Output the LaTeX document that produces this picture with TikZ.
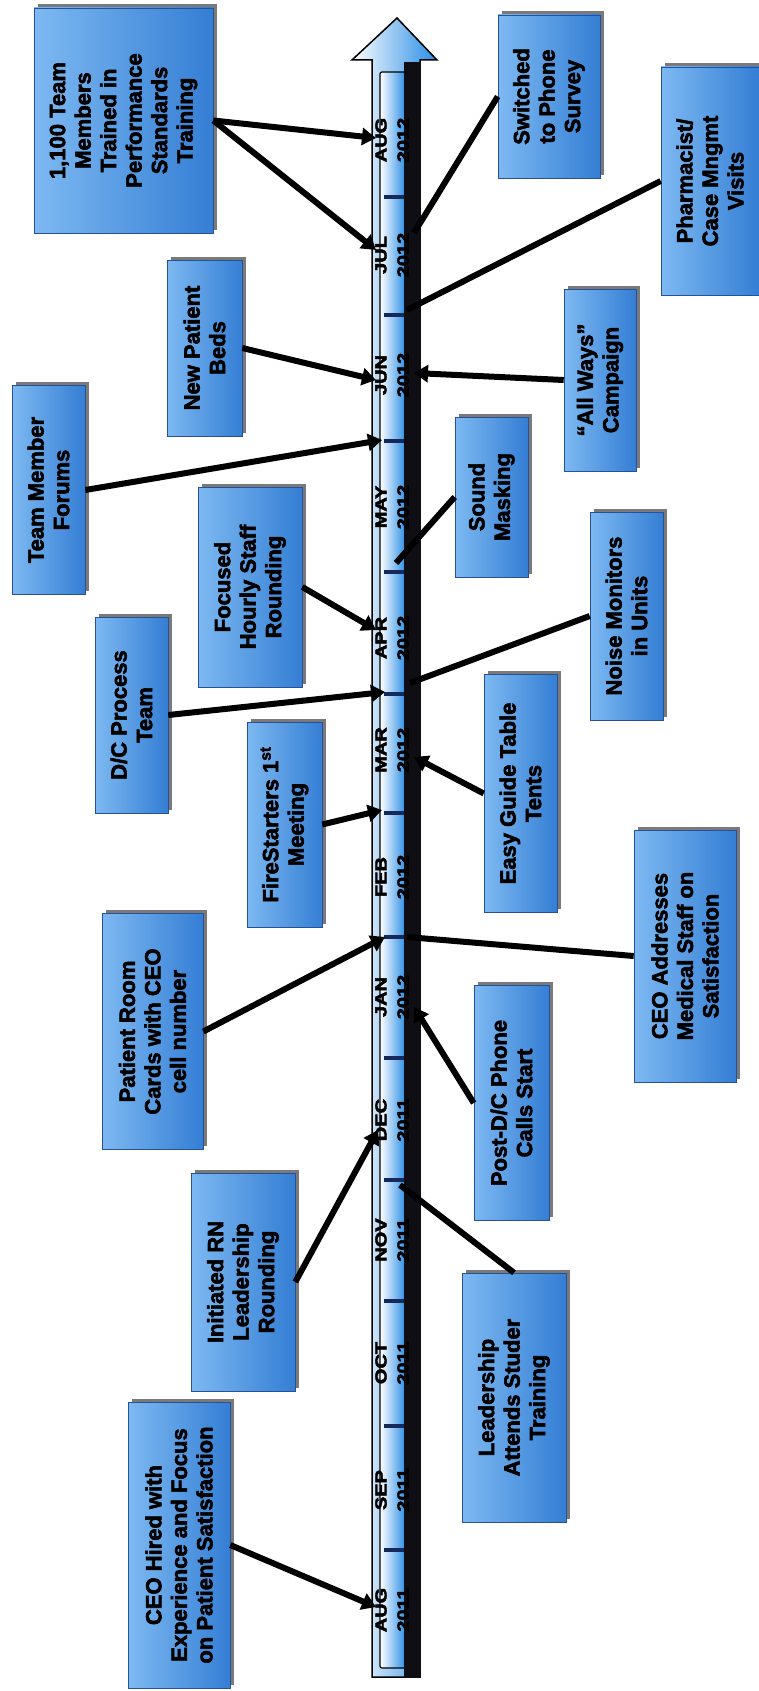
\documentclass[tikz,border=0pt]{standalone}
\usepackage{fontspec}
\setmainfont{Liberation Sans}
\newfontfamily\evfont{Liberation Sans}[FakeBold=2.5]
\usetikzlibrary{arrows.meta,shadows}
\definecolor{boxL}{RGB}{125,185,242}
\definecolor{boxR}{RGB}{52,126,212}
\definecolor{boxedge}{RGB}{40,80,150}
\definecolor{barblue}{RGB}{40,140,230}
\definecolor{bandblack}{RGB}{14,14,20}
\definecolor{tickc}{RGB}{20,40,90}
\definecolor{yearc}{RGB}{0,0,0}
\tikzset{
  evbox/.style={rectangle, inner sep=0pt, draw=boxedge, line width=0.6pt,
    left color=boxL, right color=boxR,
    drop shadow={shadow xshift=3.5pt, shadow yshift=3.5pt, fill=black!80, opacity=.65}},
  evtext/.style={rotate=90, align=center, inner sep=0pt,
    font=\evfont\bfseries\fontsize{22}{25.5}\selectfont},
  monthlab/.style={rotate=90, inner sep=0pt, font=\evfont\bfseries\fontsize{16}{16}\selectfont},
  yearlab/.style={rotate=90, inner sep=0pt, text=yearc, font=\evfont\bfseries\fontsize{16}{16}\selectfont},
  conn/.style={line width=6pt, black},
  arr/.style={conn, -{Triangle[length=14pt,width=17pt]}}
}
\begin{document}
\begin{tikzpicture}[x=1pt,y=-1pt]
\useasboundingbox (0,0) rectangle (759,1691);
\fill[white] (0,0) rectangle (759,1691);

% ---- timeline bar ----
\path[draw=black, line width=1.5pt, left color=white, right color=barblue]
  (372,1677) -- (372,60) -- (352,60) -- (397,18) -- (437,60) -- (420,60) -- (420,1677) -- cycle;
\path[draw=black, line width=1.2pt, left color=white, right color=barblue, rounded corners=2pt]
  (380,72) rectangle (406,1668);
\fill[bandblack] (404,62) rectangle (421,1678);
\foreach \y in {197,315,441,572,694,813,937,1058,1180,1301,1426,1550}
  \draw[tickc, line width=4pt] (384,\y) -- (404,\y);
\foreach \m/\y/\yr in {AUG/140/2012,JUL/255/2012,JUN/375/2012,MAY/507/2012,APR/638/2012,MAR/750/2012,FEB/877/2012,JAN/997/2012,DEC/1120/2011,NOV/1240/2011,OCT/1363/2011,SEP/1490/2011,AUG/1610/2011}{
  \node[monthlab] (mon\y) at (381,\y) {\scalebox{1.25}[1]{\m}};
  \node[yearlab] (yr\y) at (403,\y) {\scalebox{1.25}[1]{\yr}};
}

% ---- connector end points on the bar ----
\coordinate (cA12) at (376,138);
\coordinate (cJL) at (376,250);
\coordinate (cJN) at (376,380);
\coordinate (cTMF) at (382,440);
\coordinate (cAPR) at (376,630);
\coordinate (cDC) at (385,692);
\coordinate (cFS) at (382,810);
\coordinate (cPRC) at (385,937);
\coordinate (cIRN) at (378,1130);
\coordinate (cA11) at (376,1607);
\coordinate (cSPS) at (414,233);
\coordinate (cPCM) at (407,310);
\coordinate (cAWC) at (414,373);
\coordinate (cSM) at (396,563);
\coordinate (cNMU) at (410,683);
\coordinate (cEGT) at (414,757);
\coordinate (cCEOA) at (407,937);
\coordinate (cPDC) at (414,1007);
\coordinate (cLAST) at (400,1185);

% ---- boxes, left side ----
\node[evbox, minimum width=179pt, minimum height=225pt] (b1100) at (123.5,120.5) {};
\node[evtext] (t1100) at (b1100.center) {1,100 Team\\Members\\Trained in\\Performance\\Standards\\Training};
\node[evbox, minimum width=75pt, minimum height=176pt] (bNPB) at (204.5,348) {};
\node[evtext] (tNPB) at (bNPB.center) {New Patient\\Beds};
\node[evbox, minimum width=73pt, minimum height=209pt] (bTMF) at (48.5,490) {};
\node[evtext] (tTMF) at (bTMF.center) {Team Member\\Forums};
\node[evbox, minimum width=104pt, minimum height=200pt] (bFHSR) at (250,587) {};
\node[evtext] (tFHSR) at (bFHSR.center) {Focused\\Hourly Staff\\Rounding};
\node[evbox, minimum width=73pt, minimum height=196pt] (bDCP) at (131.5,715) {};
\node[evtext] (tDCP) at (bDCP.center) {D/C Process\\Team};
\node[evbox, minimum width=75pt, minimum height=205pt] (bFS) at (284.5,824.5) {};
\node[evtext] (tFS) at (bFS.center) {FireStarters 1\textsuperscript{st}\\Meeting};
\node[evbox, minimum width=101pt, minimum height=236pt] (bPRC) at (152.5,1031.5) {};
\node[evtext] (tPRC) at (bPRC.center) {Patient Room\\Cards with CEO\\cell number};
\node[evbox, minimum width=104pt, minimum height=218pt] (bIRN) at (243,1282) {};
\node[evtext] (tIRN) at (bIRN.center) {Initiated RN\\Leadership\\Rounding};
\node[evbox, minimum width=102pt, minimum height=286pt] (bCEOH) at (179,1545) {};
\node[evtext] (tCEOH) at (bCEOH.center) {CEO Hired with\\Experience and Focus\\on Patient Satisfaction};

% ---- boxes, right side ----
\node[evbox, minimum width=102pt, minimum height=163pt] (bSPS) at (549,96.5) {};
\node[evtext] (tSPS) at (bSPS.center) {Switched\\to Phone\\Survey};
\node[evbox, minimum width=98pt, minimum height=228pt] (bPCM) at (710,181) {};
\node[evtext] (tPCM) at (bPCM.center) {Pharmacist/\\Case Mngmt\\Visits};
\node[evbox, minimum width=72pt, minimum height=182pt] (bAWC) at (600,380) {};
\node[evtext] (tAWC) at (bAWC.center) {“All Ways”\\Campaign};
\node[evbox, minimum width=73pt, minimum height=160pt] (bSM) at (491.5,497) {};
\node[evtext] (tSM) at (bSM.center) {Sound\\Masking};
\node[evbox, minimum width=73pt, minimum height=208pt] (bNMU) at (626.5,616) {};
\node[evtext] (tNMU) at (bNMU.center) {Noise Monitors\\in Units};
\node[evbox, minimum width=73pt, minimum height=238pt] (bEGT) at (520.5,793.5) {};
\node[evtext] (tEGT) at (bEGT.center) {Easy Guide Table\\Tents};
\node[evbox, minimum width=102pt, minimum height=252pt] (bCEOA) at (685,956) {};
\node[evtext] (tCEOA) at (bCEOA.center) {CEO Addresses\\Medical Staff on\\Satisfaction};
\node[evbox, minimum width=75pt, minimum height=235pt] (bPDC) at (511.5,1103) {};
\node[evtext] (tPDC) at (bPDC.center) {Post-D/C Phone\\Calls Start};
\node[evbox, minimum width=104pt, minimum height=249pt] (bLAST) at (514,1397.5) {};
\node[evtext] (tLAST) at (bLAST.center) {Leadership\\Attends Studer\\Training};

% ---- connectors ----
\draw[arr] (b1100.east) -- (cA12);
\draw[arr] (b1100.east) -- (cJL);
\draw[arr] (bNPB.east) -- (cJN);
\draw[arr] (bTMF.east) -- (cTMF);
\draw[arr] (bFHSR.east) -- (cAPR);
\draw[arr] (bDCP.east) -- (cDC);
\draw[arr] (bFS.east) -- (cFS);
\draw[arr] (bPRC.east) -- (cPRC);
\draw[arr] (bIRN.east) -- (cIRN);
\draw[arr] (bCEOH.east) -- (cA11);
\draw[conn] (bSPS.west) -- (cSPS);
\draw[conn] (bPCM.west) -- (cPCM);
\draw[arr] (bAWC.west) -- (cAWC);
\draw[conn] (bSM.west) -- (cSM);
\draw[conn] (bNMU.west) -- (cNMU);
\draw[arr] (bEGT.west) -- (cEGT);
\draw[conn] (bCEOA.west) -- (cCEOA);
\draw[arr] (bPDC.west) -- (cPDC);
\draw[conn] (bLAST.north) -- (cLAST);
\end{tikzpicture}
\end{document}
